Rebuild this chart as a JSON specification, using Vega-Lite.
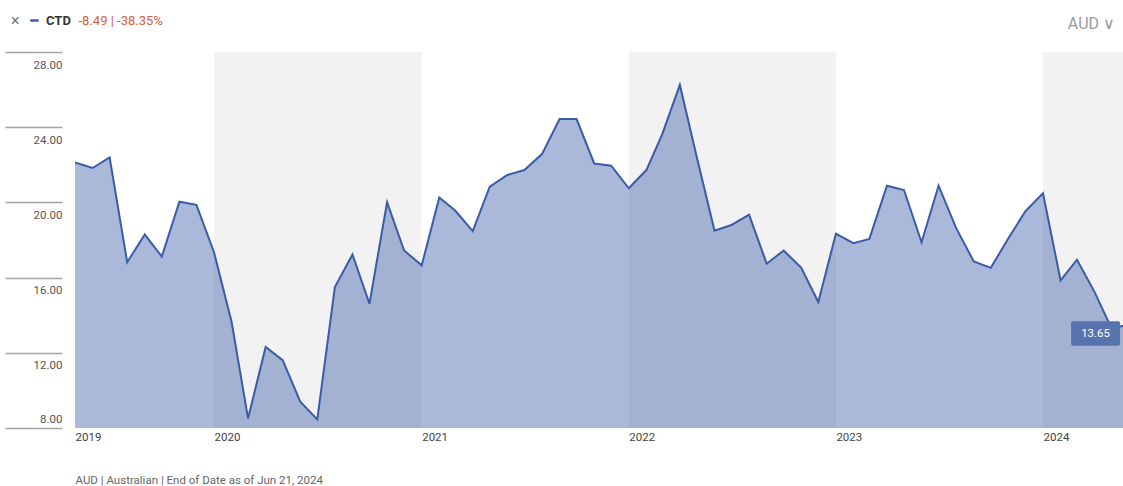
{
  "$schema": "https://vega.github.io/schema/vega-lite/v6.json",
  "width": 1048,
  "height": 376,
  "autosize": {"type": "none"},
  "padding": {"left": 75, "top": 52, "right": 0, "bottom": 58},
  "background": "white",
  "config": {"font": "Roboto", "view": {"stroke": null}},
  "title": {
    "text": "AUD ∨",
    "anchor": "end",
    "frame": "group",
    "dx": -8,
    "dy": 22,
    "offset": 4,
    "color": "#9a9a9a",
    "fontSize": 16,
    "fontWeight": "normal",
    "font": "Roboto"
  },
  "datasets": {
    "bands": [
      {"start": "2020-01-01", "end": "2021-01-01"},
      {"start": "2022-01-01", "end": "2023-01-01"},
      {"start": "2024-01-01", "end": "2025-01-01"}
    ],
    "prices": [
      {"date": "2019-05-01", "price": 22.13, "series": "CTD"},
      {"date": "2019-06-01", "price": 21.83, "series": "CTD"},
      {"date": "2019-07-01", "price": 22.39, "series": "CTD"},
      {"date": "2019-08-01", "price": 16.82, "series": "CTD"},
      {"date": "2019-09-01", "price": 18.29, "series": "CTD"},
      {"date": "2019-10-01", "price": 17.12, "series": "CTD"},
      {"date": "2019-11-01", "price": 20.04, "series": "CTD"},
      {"date": "2019-12-01", "price": 19.87, "series": "CTD"},
      {"date": "2020-01-01", "price": 17.35, "series": "CTD"},
      {"date": "2020-02-01", "price": 13.64, "series": "CTD"},
      {"date": "2020-03-01", "price": 8.51, "series": "CTD"},
      {"date": "2020-04-01", "price": 12.31, "series": "CTD"},
      {"date": "2020-05-01", "price": 11.61, "series": "CTD"},
      {"date": "2020-06-01", "price": 9.40, "series": "CTD"},
      {"date": "2020-07-01", "price": 8.46, "series": "CTD"},
      {"date": "2020-08-01", "price": 15.50, "series": "CTD"},
      {"date": "2020-09-01", "price": 17.23, "series": "CTD"},
      {"date": "2020-10-01", "price": 14.61, "series": "CTD"},
      {"date": "2020-11-01", "price": 20.01, "series": "CTD"},
      {"date": "2020-12-01", "price": 17.44, "series": "CTD"},
      {"date": "2021-01-01", "price": 16.65, "series": "CTD"},
      {"date": "2021-02-01", "price": 20.26, "series": "CTD"},
      {"date": "2021-03-01", "price": 19.57, "series": "CTD"},
      {"date": "2021-04-01", "price": 18.47, "series": "CTD"},
      {"date": "2021-05-01", "price": 20.84, "series": "CTD"},
      {"date": "2021-06-01", "price": 21.46, "series": "CTD"},
      {"date": "2021-07-01", "price": 21.72, "series": "CTD"},
      {"date": "2021-08-01", "price": 22.57, "series": "CTD"},
      {"date": "2021-09-01", "price": 24.43, "series": "CTD"},
      {"date": "2021-10-01", "price": 24.43, "series": "CTD"},
      {"date": "2021-11-01", "price": 22.07, "series": "CTD"},
      {"date": "2021-12-01", "price": 21.95, "series": "CTD"},
      {"date": "2022-01-01", "price": 20.75, "series": "CTD"},
      {"date": "2022-02-01", "price": 21.72, "series": "CTD"},
      {"date": "2022-03-01", "price": 23.63, "series": "CTD"},
      {"date": "2022-04-01", "price": 26.25, "series": "CTD"},
      {"date": "2022-05-01", "price": 22.39, "series": "CTD"},
      {"date": "2022-06-01", "price": 18.50, "series": "CTD"},
      {"date": "2022-07-01", "price": 18.80, "series": "CTD"},
      {"date": "2022-08-01", "price": 19.35, "series": "CTD"},
      {"date": "2022-09-01", "price": 16.74, "series": "CTD"},
      {"date": "2022-10-01", "price": 17.44, "series": "CTD"},
      {"date": "2022-11-01", "price": 16.52, "series": "CTD"},
      {"date": "2022-12-01", "price": 14.70, "series": "CTD"},
      {"date": "2023-01-01", "price": 18.33, "series": "CTD"},
      {"date": "2023-02-01", "price": 17.83, "series": "CTD"},
      {"date": "2023-03-01", "price": 18.06, "series": "CTD"},
      {"date": "2023-04-01", "price": 20.89, "series": "CTD"},
      {"date": "2023-05-01", "price": 20.66, "series": "CTD"},
      {"date": "2023-06-01", "price": 17.88, "series": "CTD"},
      {"date": "2023-07-01", "price": 20.89, "series": "CTD"},
      {"date": "2023-08-01", "price": 18.63, "series": "CTD"},
      {"date": "2023-09-01", "price": 16.86, "series": "CTD"},
      {"date": "2023-10-01", "price": 16.52, "series": "CTD"},
      {"date": "2023-11-01", "price": 18.09, "series": "CTD"},
      {"date": "2023-12-01", "price": 19.53, "series": "CTD"},
      {"date": "2024-01-01", "price": 20.48, "series": "CTD"},
      {"date": "2024-02-01", "price": 15.85, "series": "CTD"},
      {"date": "2024-03-01", "price": 16.95, "series": "CTD"},
      {"date": "2024-04-01", "price": 15.23, "series": "CTD"},
      {"date": "2024-05-01", "price": 13.29, "series": "CTD"},
      {"date": "2024-06-21", "price": 13.65, "series": "CTD"}
    ],
    "last": [
      {"date": "2024-06-21", "price": 13.65, "label": "13.65"}
    ]
  },
  "layer": [
    {
      "data": {"name": "bands"},
      "mark": {"type": "rect", "color": "#f2f2f2", "clip": true},
      "encoding": {
        "x": {"field": "start", "type": "temporal"},
        "x2": {"field": "end"},
        "y": {"datum": 28, "type": "quantitative"},
        "y2": {"datum": 8}
      }
    },
    {
      "data": {"name": "prices"},
      "mark": {"type": "area", "color": "#3a5ca6", "fillOpacity": 0.43, "clip": true},
      "encoding": {
        "x": {
          "field": "date",
          "type": "temporal",
          "scale": {
            "type": "utc",
            "domain": [
              {"year": 2019, "month": 5, "date": 1, "utc": true},
              {"year": 2024, "month": 5, "date": 21, "utc": true}
            ]
          },
          "axis": {
            "values": [
              {"year": 2019, "month": 5, "date": 1, "utc": true},
              {"year": 2020, "month": 1, "date": 1, "utc": true},
              {"year": 2021, "month": 1, "date": 1, "utc": true},
              {"year": 2022, "month": 1, "date": 1, "utc": true},
              {"year": 2023, "month": 1, "date": 1, "utc": true},
              {"year": 2024, "month": 1, "date": 1, "utc": true}
            ],
            "labelExpr": "utcFormat(datum.value, '%Y')",
            "domain": false,
            "ticks": false,
            "grid": false,
            "labelAlign": "left",
            "labelBaseline": "top",
            "labelPadding": 3,
            "labelColor": "#444",
            "labelFontSize": 11.5,
            "title": "AUD | Australian | End of Date as of Jun 21, 2024",
            "titleAnchor": "start",
            "titleAlign": "left",
            "titleColor": "#666",
            "titleFontSize": 11.5,
            "titleFontWeight": "normal",
            "titlePadding": 32
          }
        },
        "y": {
          "field": "price",
          "type": "quantitative",
          "scale": {"domain": [8, 28], "nice": false, "zero": false},
          "axis": {
            "values": [8, 12, 16, 20, 24, 28],
            "format": ".2f",
            "offset": 13,
            "domain": false,
            "tickSize": 57,
            "tickColor": "#a3a3a3",
            "tickWidth": 1.3,
            "gridColor": "#a3a3a3",
            "gridWidth": 1.3,
            "labelPadding": -57,
            "labelAlign": "right",
            "labelBaseline": "middle",
            "labelOffset": {"condition": {"test": "datum.value == 8", "value": -9}, "value": 13},
            "labelColor": "#555",
            "labelFontSize": 11.5,
            "title": "-8.49 | -38.35%",
            "titleAngle": 0,
            "titleAlign": "left",
            "titleBaseline": "middle",
            "titleX": 16,
            "titleY": -32,
            "titleColor": "#d4603f",
            "titleFontSize": 13,
            "titleFontWeight": "normal"
          }
        }
      }
    },
    {
      "data": {"name": "prices"},
      "mark": {"type": "line", "strokeWidth": 2, "clip": true},
      "encoding": {
        "x": {"field": "date", "type": "temporal"},
        "y": {"field": "price", "type": "quantitative"},
        "color": {
          "field": "series",
          "type": "nominal",
          "scale": {"range": ["#3a5ca6"]},
          "legend": {
            "orient": "none",
            "legendX": -64,
            "legendY": -38,
            "title": "×",
            "titleOrient": "left",
            "titleColor": "#777",
            "titleFontSize": 16,
            "titleFontWeight": "normal",
            "titlePadding": 8,
            "symbolType": "stroke",
            "symbolStrokeWidth": 2.5,
            "symbolSize": 70,
            "labelFontWeight": "bold",
            "labelColor": "#333",
            "labelFontSize": 13,
            "labelOffset": 5
          }
        }
      }
    },
    {
      "data": {"name": "last"},
      "mark": {"type": "rect", "color": "#5673ad", "cornerRadius": 2, "xOffset": -69.5, "x2Offset": -20.5, "yOffset": -0.5, "y2Offset": 24},
      "encoding": {
        "x": {"field": "date", "type": "temporal"},
        "x2": {"field": "date"},
        "y": {"field": "price", "type": "quantitative"},
        "y2": {"field": "price"}
      }
    },
    {
      "data": {"name": "last"},
      "mark": {"type": "text", "color": "white", "fontSize": 11.5, "align": "center", "baseline": "middle", "dx": -45, "dy": 12},
      "encoding": {
        "x": {"field": "date", "type": "temporal"},
        "y": {"field": "price", "type": "quantitative"},
        "text": {"field": "label"}
      }
    }
  ]
}
